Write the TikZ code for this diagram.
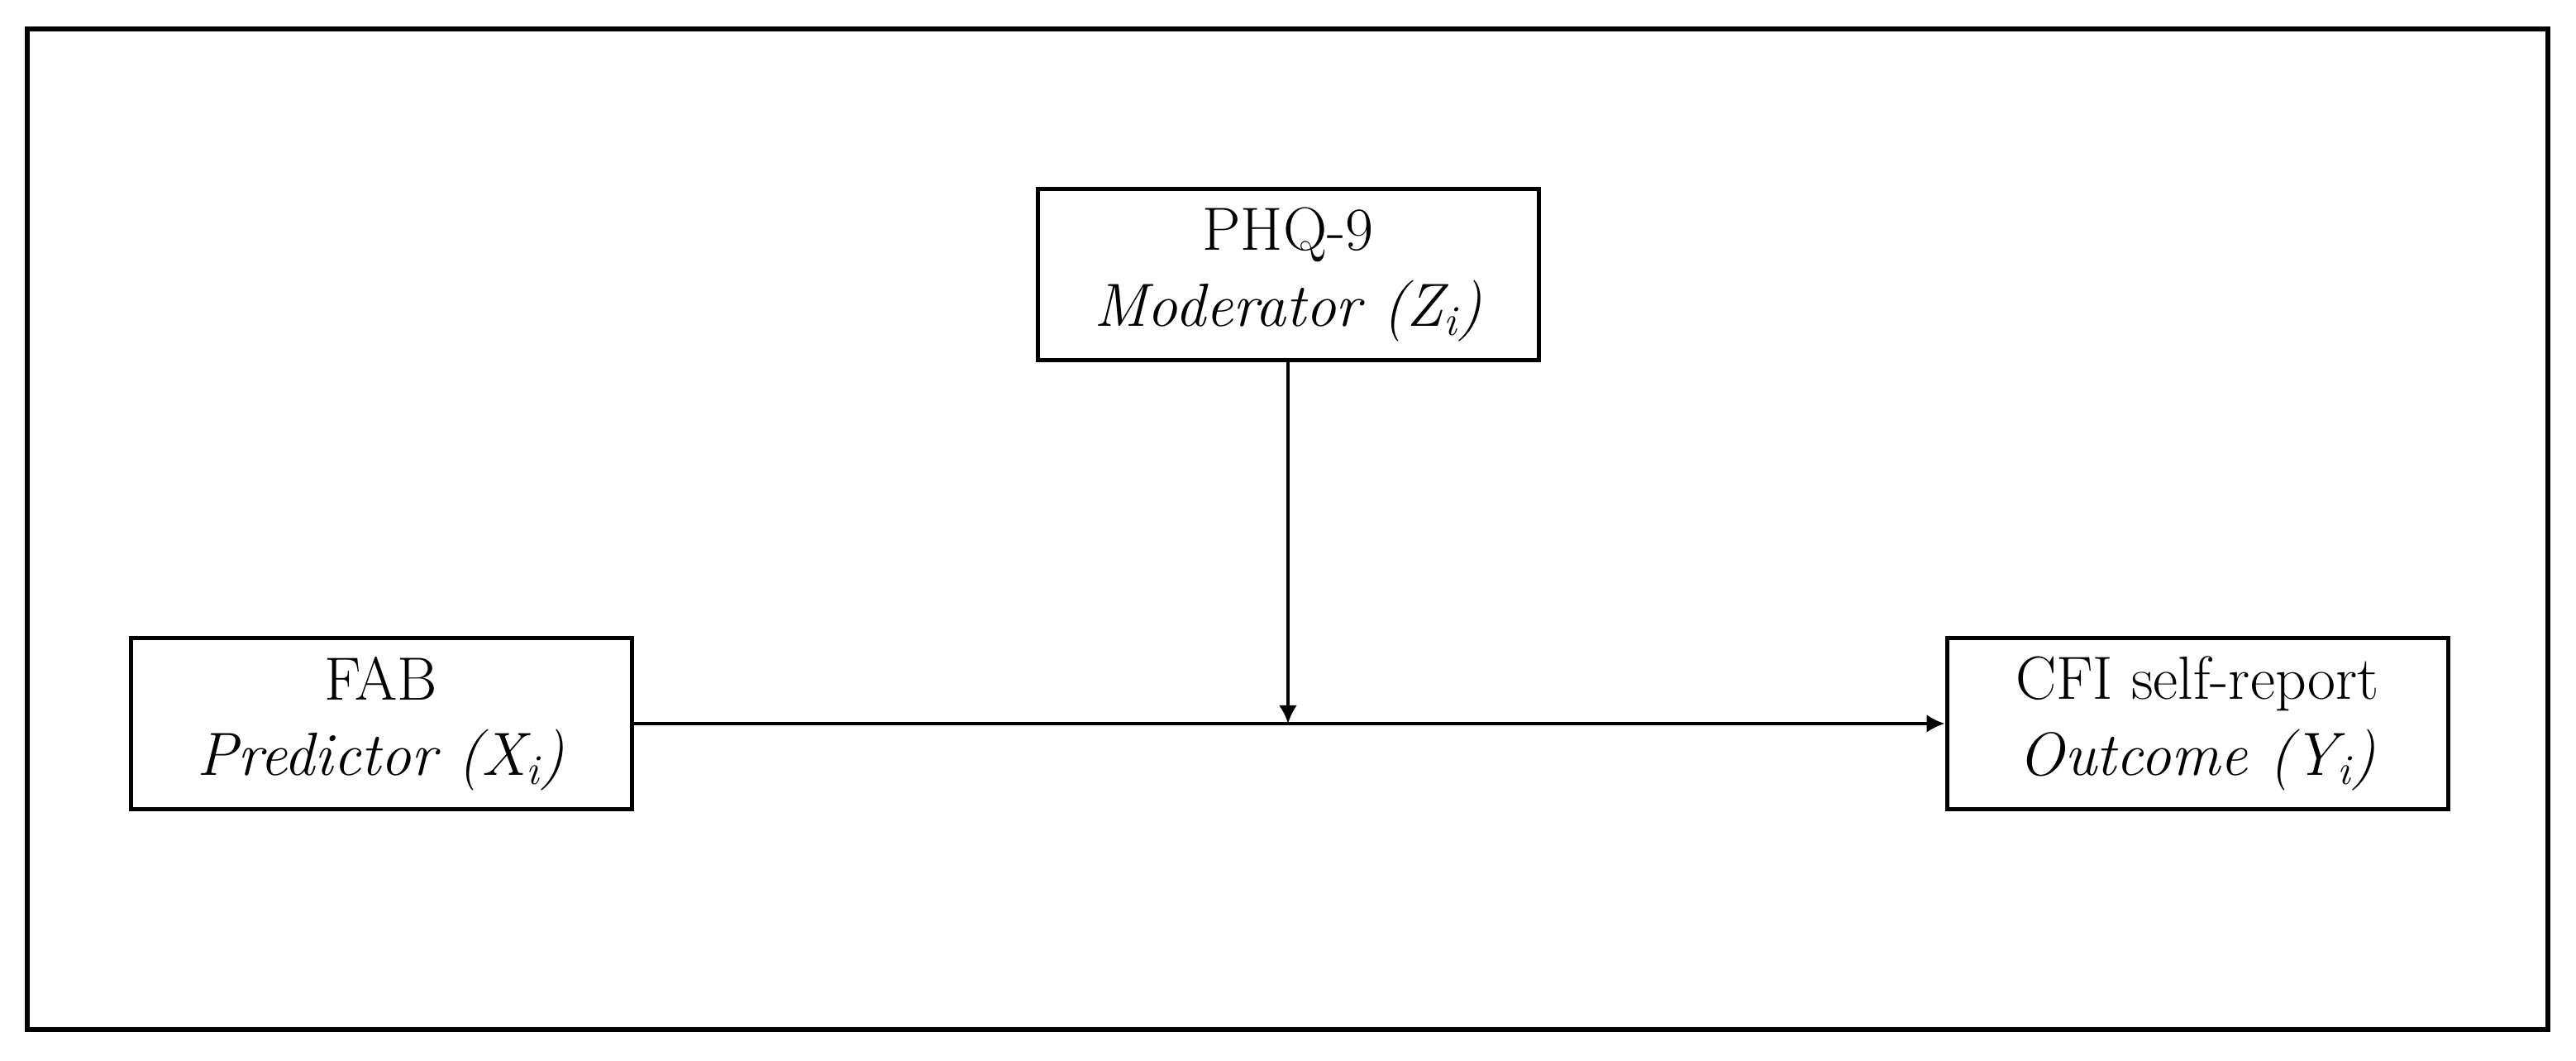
\documentclass[tikz,border=0pt]{standalone}
\usetikzlibrary{arrows.meta}
\begin{document}
\begin{tikzpicture}[x=1cm,y=1cm,
  varbox/.style={draw=black, line width=0.05cm, fill=white, minimum width=6.06cm, minimum height=2.07cm,
    align=center, inner sep=0pt, font=\fontsize{21}{26}\selectfont},
  conn/.style={line width=0.04cm, -{Latex[length=0.22cm,width=0.22cm]}}]
\useasboundingbox (0,0) rectangle (31.16,-12.83);
\draw[line width=0.06cm] (0.33,-0.35) rectangle (30.82,-12.45);
\node[varbox] (phq) at (15.58,-3.32) {PHQ-9\\\textit{Moderator (Z\textsubscript{i})}};
\node[varbox] (fab) at (4.61,-8.75) {FAB\\\textit{Predictor (X\textsubscript{i})}};
\node[varbox] (cfi) at (26.58,-8.75) {CFI self-report\\\textit{Outcome (Y\textsubscript{i})}};
\coordinate (meet) at (phq.south |- fab.east);
\draw[conn] (fab.east) -- (cfi.west);
\draw[conn] (phq.south) -- (meet);
\end{tikzpicture}
\end{document}
